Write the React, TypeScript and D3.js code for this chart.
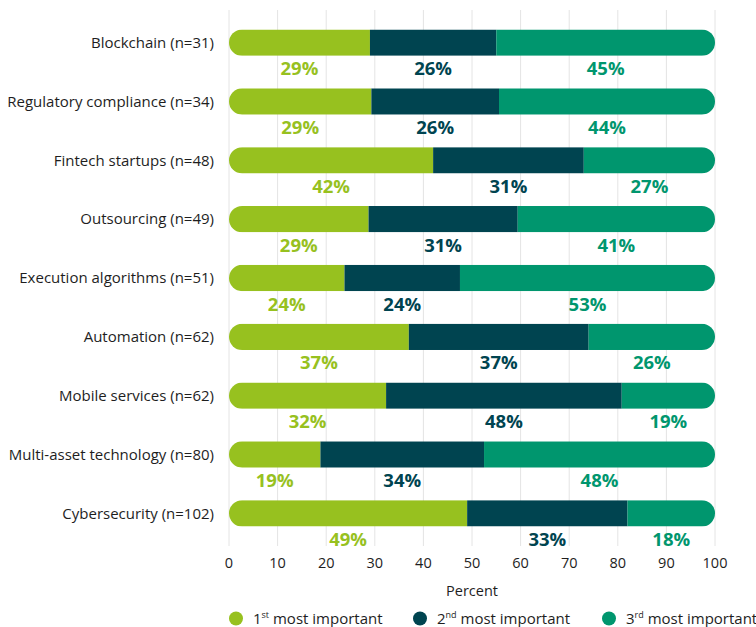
import React from "react";
import * as d3 from "d3";

const categories = [
  "Blockchain (n=31)",
  "Regulatory compliance (n=34)",
  "Fintech startups (n=48)",
  "Outsourcing (n=49)",
  "Execution algorithms (n=51)",
  "Automation (n=62)",
  "Mobile services (n=62)",
  "Multi-asset technology (n=80)",
  "Cybersecurity (n=102)",
];
const first = [29, 29, 42, 29, 24, 37, 32, 19, 49];
const second = [26, 26, 31, 31, 24, 37, 48, 34, 33];
const third = [45, 44, 27, 41, 53, 26, 19, 48, 18];
const seriesKeys = ["first", "second", "third"];
const seriesOrdinals = [
  ["1", "st"],
  ["2", "nd"],
  ["3", "rd"],
];
const xTicks = [0, 10, 20, 30, 40, 50, 60, 70, 80, 90, 100];

const colors = ["#97C11F", "#004450", "#00966E"];
const FONT = "'Open Sans', 'Noto Sans', sans-serif";

export default function App() {
  const W = 756;
  const H = 627;
  const x = d3.scaleLinear().domain([0, 100]).range([229, 715]);
  const y = d3
    .scaleBand<string>()
    .domain(categories)
    .range([29.5, 526.5])
    .paddingInner(0.553)
    .paddingOuter(0);
  const bw = y.bandwidth();

  const rows = categories.map((c, i) => ({
    cat: c,
    first: first[i],
    second: second[i],
    third: third[i],
  }));
  const stack = d3
    .stack<any>()
    .keys(seriesKeys)
    .offset(d3.stackOffsetExpand);
  const stacked = stack(rows);

  const legendX = [236, 420, 609];

  return (
    <svg
      width={W}
      height={H}
      style={{ position: "absolute", left: 0, top: 0, background: "#fff" }}
      fontFamily={FONT}
    >
      <defs>
        {categories.map((c, i) => (
          <clipPath id={`clip-${i}`} key={c}>
            <rect
              x={x(0)}
              y={y(c)}
              width={x(100) - x(0)}
              height={bw}
              rx={bw / 2}
              ry={bw / 2}
            />
          </clipPath>
        ))}
      </defs>

      {/* grid */}
      {xTicks.map((t) => (
        <line
          key={t}
          x1={x(t)}
          x2={x(t)}
          y1={10}
          y2={546}
          stroke="#e4e4e4"
          strokeWidth={1}
        />
      ))}

      {/* bars */}
      {categories.map((c, i) => (
        <g key={c} clipPath={`url(#clip-${i})`}>
          {stacked.map((s, k) => (
            <rect
              key={k}
              x={x(s[i][0] * 100)}
              y={y(c)}
              width={x(s[i][1] * 100) - x(s[i][0] * 100)}
              height={bw}
              fill={colors[k]}
            />
          ))}
        </g>
      ))}

      {/* value labels */}
      {categories.map((c, i) =>
        stacked.map((s, k) => {
          const raw = [first, second, third][k][i];
          return (
            <text
              key={c + k}
              x={x(((s[i][0] + s[i][1]) / 2) * 100)}
              y={(y(c) as number) + bw + 19.5}
              textAnchor="middle"
              fontSize={18.5}
              fontWeight={700}
              fill={colors[k]}
            >
              {raw}%
            </text>
          );
        })
      )}

      {/* category labels */}
      {categories.map((c) => (
        <text
          key={c}
          x={214}
          y={(y(c) as number) + bw / 2}
          dy="0.35em"
          textAnchor="end"
          fontSize={15}
          fill="#1e1e1e"
        >
          {c}
        </text>
      ))}

      {/* x axis tick labels */}
      {xTicks.map((t) => (
        <text
          key={t}
          x={x(t)}
          y={568}
          textAnchor="middle"
          fontSize={14.5}
          fill="#1e1e1e"
        >
          {t}
        </text>
      ))}
      <text
        x={x(50)}
        y={596}
        textAnchor="middle"
        fontSize={14.5}
        fill="#1e1e1e"
      >
        Percent
      </text>

      {/* legend */}
      {seriesOrdinals.map((o, k) => (
        <g key={k}>
          <circle cx={legendX[k]} cy={618.5} r={7} fill={colors[k]} />
          <text
            x={legendX[k] + 17}
            y={623.5}
            fontSize={15}
            fill="#1e1e1e"
          >
            {o[0]}
            <tspan fontSize={9} dy={-6}>
              {o[1]}
            </tspan>
            <tspan dy={6}> most important</tspan>
          </text>
        </g>
      ))}
    </svg>
  );
}
